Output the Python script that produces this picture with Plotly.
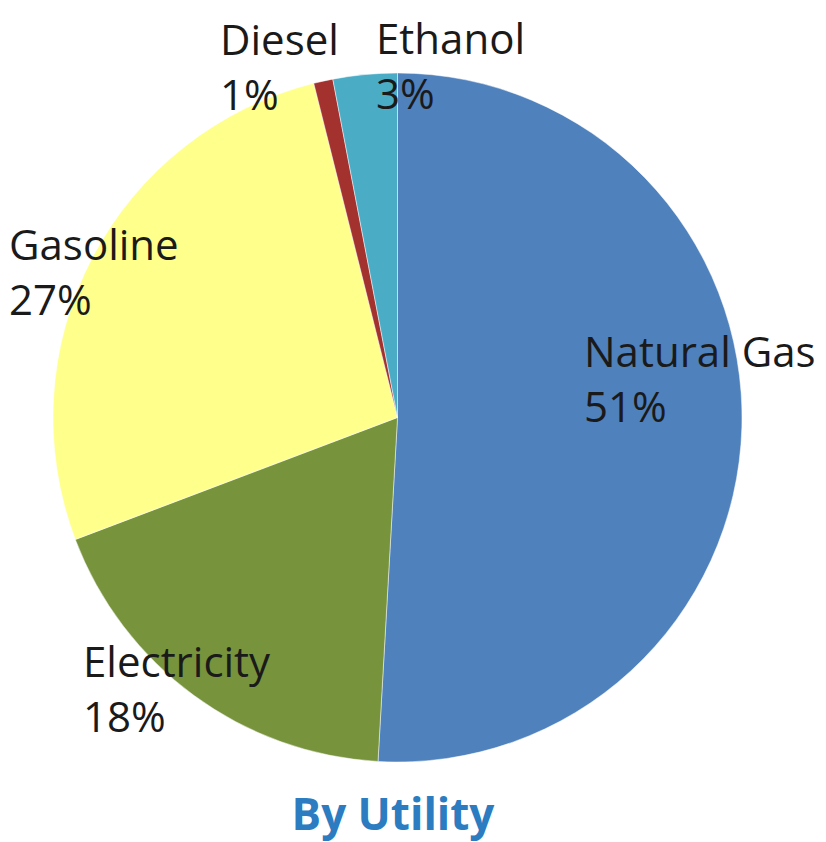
import math
import plotly.graph_objects as go

# Data
categories = ["Natural Gas", "Electricity", "Gasoline", "Diesel", "Ethanol"]
values = [50.8, 18.3, 26.8, 0.9, 3.0]
colors = ["#4F81BD", "#77933C", "#FFFF8C", "#A3312E", "#4BACC6"]

# label placement style (radius factor, angle offset in degrees from slice middle)
label_r = [0.884, 1.013, 0.98, 1.075, 1.035]
label_dtheta = [-9.0, 3.0, -1.8, -6.1, 14.0]

# page is 826x842 with an 8px body margin
OFF = 8
W, H = 826 - 2 * OFF, 842 - OFF


def fx(px):
    return (px - OFF) / W


def fy(py):
    return 1 - (py - OFF) / H


# pie placement in page pixels
PX0, PX1, PY0, PY1 = 50, 745, 73, 762
cx, cy = (PX0 + PX1) / 2, (PY0 + PY1) / 2
R = (PY1 - PY0) / 2

fig = go.Figure(go.Pie(
    labels=categories, values=values, sort=False, direction="clockwise",
    rotation=0, marker=dict(colors=colors, line=dict(color="rgba(255,255,255,0.6)", width=0.8)),
    textinfo="none", hoverinfo="label+percent", showlegend=False,
    domain=dict(x=[fx(PX0), fx(PX1)], y=[fy(PY1), fy(PY0)]),
))

total = sum(values)
cum = 0.0
for i, (name, v) in enumerate(zip(categories, values)):
    mid = (cum + v / 2) / total * 360.0
    cum += v
    th = math.radians(mid + label_dtheta[i])
    px = cx + label_r[i] * R * math.sin(th)
    py = cy - label_r[i] * R * math.cos(th)
    pct = round(v / total * 100)
    fig.add_annotation(
        x=fx(px), y=fy(py), xref="paper", yref="paper",
        text=f"{name}<br>{pct}%", showarrow=False, align="left",
        xanchor="center", yanchor="middle",
        font=dict(family="'Open Sans', Lato, sans-serif", size=42, color="#1a1a1a"),
    )

fig.update_layout(
    width=W, height=H, margin=dict(l=0, r=0, t=0, b=0),
    paper_bgcolor="white", plot_bgcolor="white",
    title=dict(text="<b>By Utility</b>", x=fx(393), y=fy(815),
               xanchor="center", yanchor="middle",
               font=dict(family="'Open Sans', Lato, sans-serif", size=44, color="#2B7CC0")),
)

fig.write_html("out.html")
